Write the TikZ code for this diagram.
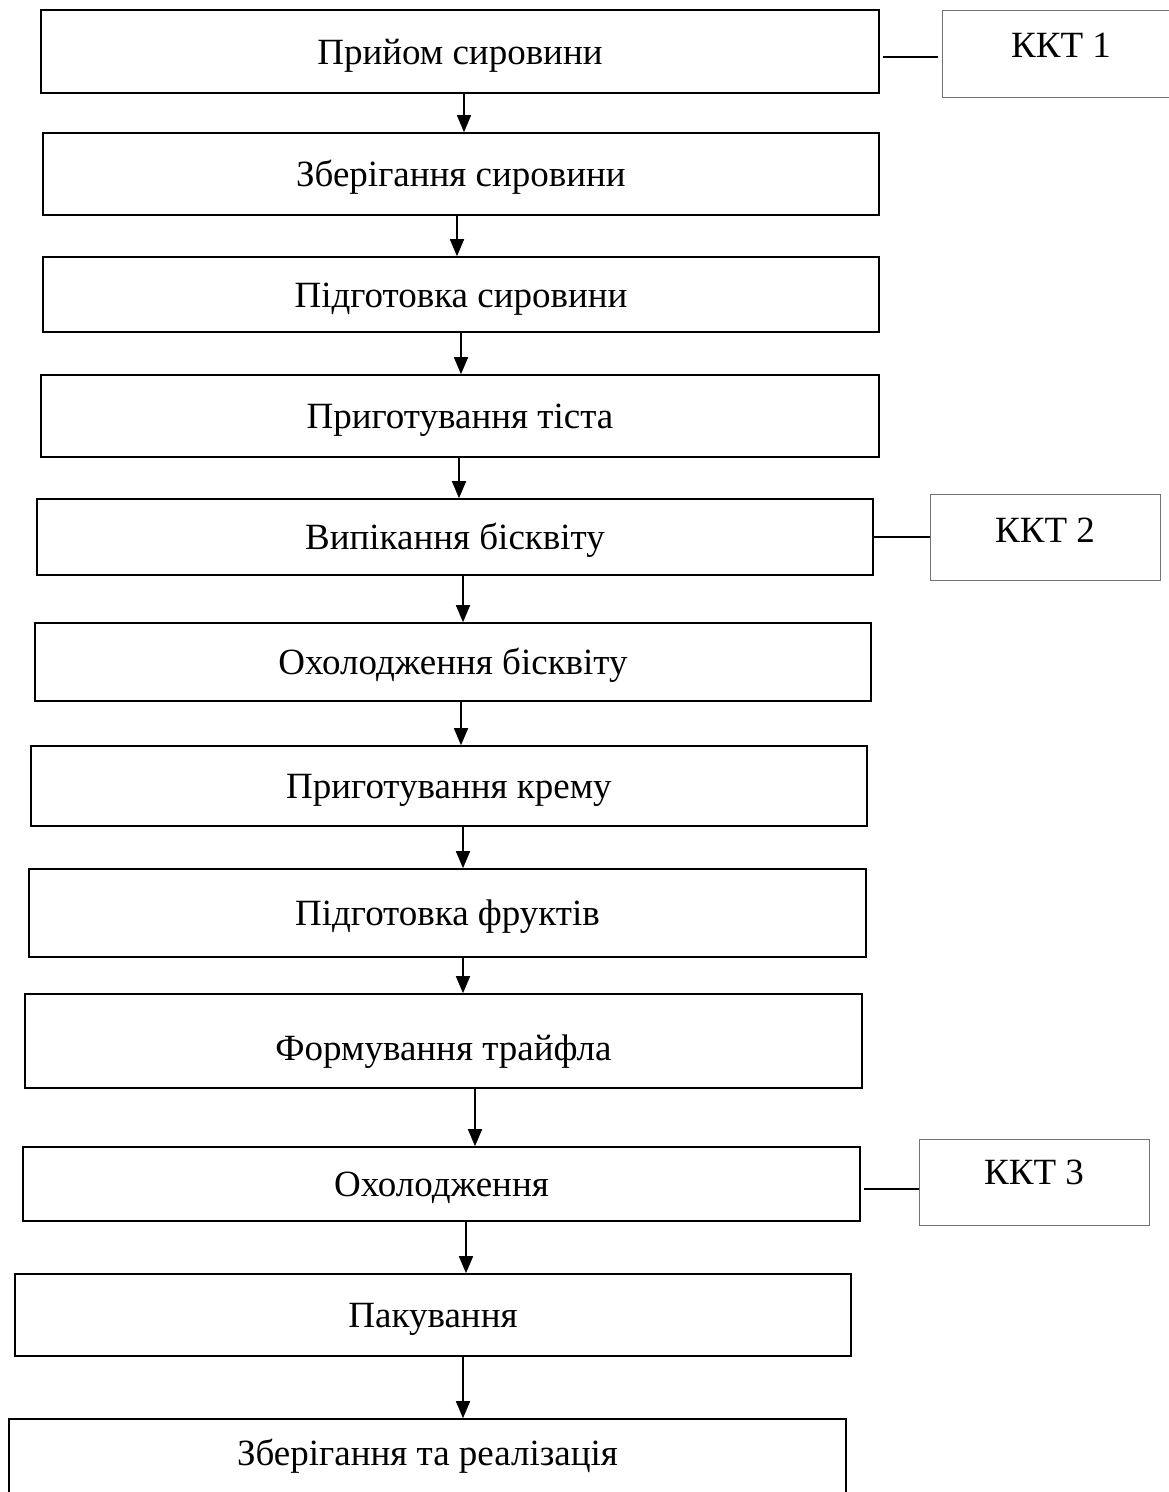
\documentclass[tikz,border=0pt]{standalone}
\usepackage{fontspec}
\setmainfont{Liberation Serif}
\usetikzlibrary{arrows.meta}
\begin{document}
\begin{tikzpicture}[x=1pt,y=-1pt,
  stepbox/.style={draw=black,line width=1.6pt,inner sep=0pt,text height=34pt,text depth=9pt,font=\fontsize{37}{44}\selectfont},
  kkt/.style={draw=black!55,line width=1pt,inner sep=0pt,text height=30pt,font=\fontsize{37}{44}\selectfont},
  arr/.style={line width=1.5pt,-{Triangle[length=17pt,width=14pt]}},
  link/.style={line width=1.5pt}]
\useasboundingbox (0,0) rectangle (1168,1492);
\node[stepbox,minimum width=838pt,minimum height=83pt] (b1) at (460,51.5) {Прийом сировини};
\node[stepbox,minimum width=836pt,minimum height=82pt] (b2) at (461,174) {Зберігання сировини};
\node[stepbox,minimum width=836pt,minimum height=75pt] (b3) at (461,294.5) {Підготовка сировини};
\node[stepbox,minimum width=838pt,minimum height=82pt] (b4) at (460,416) {Приготування тіста};
\node[stepbox,minimum width=836pt,minimum height=76pt] (b5) at (455,537) {Випікання бісквіту};
\node[stepbox,minimum width=836pt,minimum height=78pt] (b6) at (453,662) {Охолодження бісквіту};
\node[stepbox,minimum width=836pt,minimum height=80pt] (b7) at (449,786) {Приготування крему};
\node[stepbox,minimum width=837pt,minimum height=88pt] (b8) at (447.5,913) {Підготовка фруктів};
\node[stepbox,minimum width=837pt,minimum height=94pt,text height=48pt] (b9) at (443.5,1041) {Формування трайфла};
\node[stepbox,minimum width=837pt,minimum height=74pt] (b10) at (441.5,1184) {Охолодження};
\node[stepbox,minimum width=836pt,minimum height=82pt] (b11) at (433,1315) {Пакування};
\node[stepbox,minimum width=837pt,minimum height=91pt,text height=24pt,text depth=22pt] (b12) at (427.5,1464.5) {Зберігання та реалізація};
\node[kkt,minimum width=238pt,minimum height=87pt,text depth=22pt] (k1) at (1061,53.5) {ККТ 1};
\node[kkt,minimum width=230pt,minimum height=86pt,text depth=20pt] (k2) at (1045,537) {ККТ 2};
\node[kkt,minimum width=230pt,minimum height=86pt,text depth=25pt] (k3) at (1034,1182) {ККТ 3};
\draw[arr] ([xshift=4pt]b1.south) -- ([xshift=4pt]b1.south |- b2.north);
\draw[arr] ([xshift=-4pt]b2.south) -- ([xshift=-4pt]b2.south |- b3.north);
\draw[arr] ([xshift=0pt]b3.south) -- ([xshift=0pt]b3.south |- b4.north);
\draw[arr] ([xshift=-1pt]b4.south) -- ([xshift=-1pt]b4.south |- b5.north);
\draw[arr] ([xshift=8pt]b5.south) -- ([xshift=8pt]b5.south |- b6.north);
\draw[arr] ([xshift=8pt]b6.south) -- ([xshift=8pt]b6.south |- b7.north);
\draw[arr] ([xshift=14pt]b7.south) -- ([xshift=14pt]b7.south |- b8.north);
\draw[arr] ([xshift=15.5pt]b8.south) -- ([xshift=15.5pt]b8.south |- b9.north);
\draw[arr] ([xshift=31.5pt]b9.south) -- ([xshift=31.5pt]b9.south |- b10.north);
\draw[arr] ([xshift=24.5pt]b10.south) -- ([xshift=24.5pt]b10.south |- b11.north);
\draw[arr] ([xshift=30pt]b11.south) -- ([xshift=30pt]b11.south |- b12.north);
\draw[link] ([xshift=3pt,yshift=-5.5pt]b1.east) -- ([xshift=-4pt,yshift=-5.5pt]b1.east -| k1.west);
\draw[link] (b5.east) -- (b5.east -| k2.west);
\draw[link] ([xshift=3pt,yshift=-5pt]b10.east) -- ([yshift=-5pt]b10.east -| k3.west);
\end{tikzpicture}
\end{document}
